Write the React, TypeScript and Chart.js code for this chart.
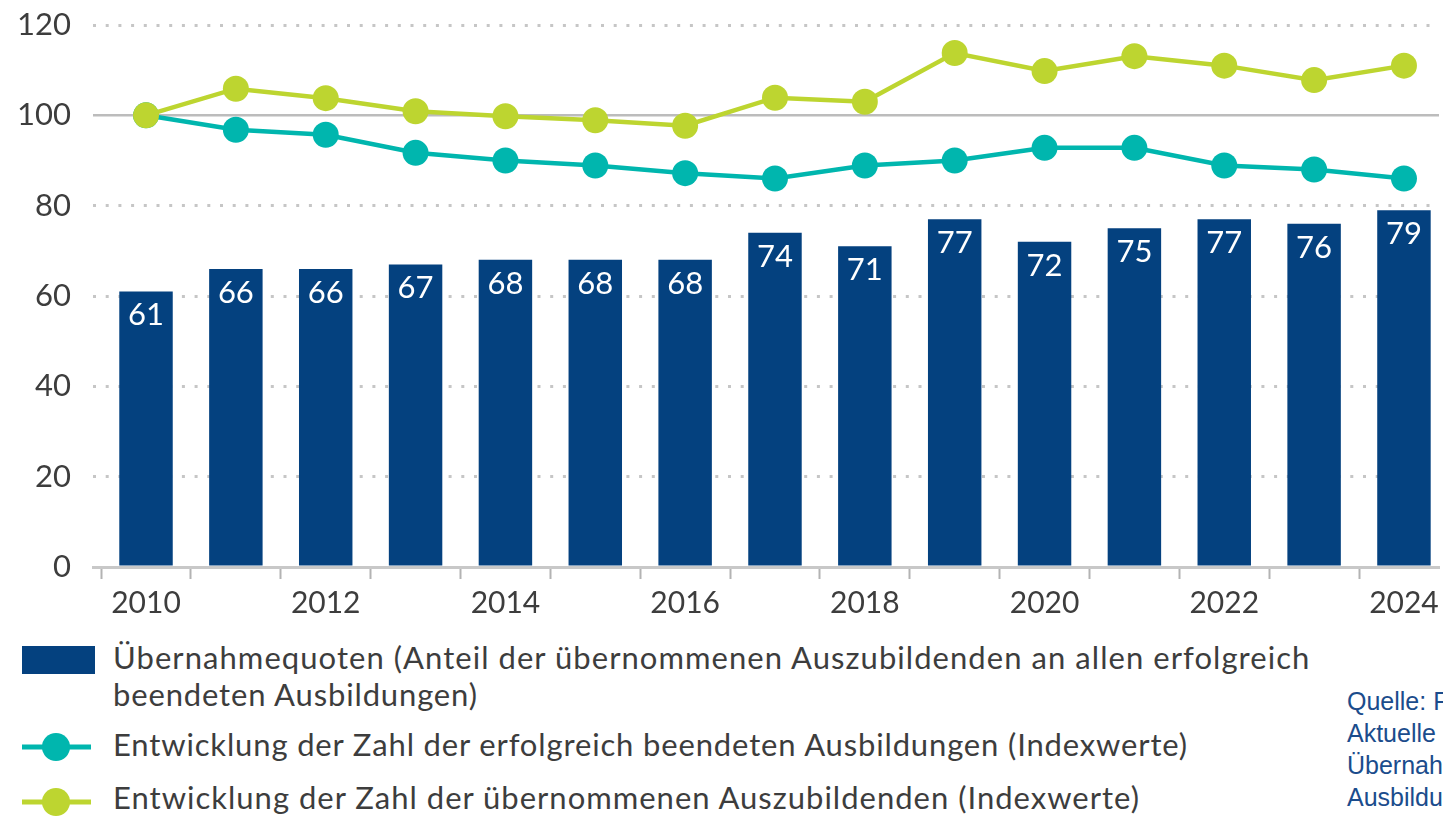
import React, { useEffect, useRef } from 'react';
import { Chart, registerables } from 'chart.js';

Chart.register(...registerables);

const years = [2010, 2011, 2012, 2013, 2014, 2015, 2016, 2017, 2018, 2019, 2020, 2021, 2022, 2023, 2024];
const quoten = [61, 66, 66, 67, 68, 68, 68, 74, 71, 77, 72, 75, 77, 76, 79];
const beendet = [100, 96.8, 95.7, 91.7, 90.0, 88.9, 87.2, 86.0, 88.9, 90.0, 92.8, 92.8, 88.9, 88.0, 86.0];
const uebernommen = [100, 105.9, 103.8, 100.9, 99.8, 98.9, 97.7, 103.9, 103.0, 113.8, 109.8, 113.1, 111.0, 107.8, 111.0];
const yMin = 0;
const yMax = 120;
const yStep = 20;

const barLabel = 'Übernahmequoten (Anteil der übernommenen Auszubildenden an allen erfolgreich';
const barLabel2 = 'beendeten Ausbildungen)';
const tealLabel = 'Entwicklung der Zahl der erfolgreich beendeten Ausbildungen (Indexwerte)';
const greenLabel = 'Entwicklung der Zahl der übernommenen Auszubildenden (Indexwerte)';
const sourceLines = [
  'Quelle: Forschungsdatenzentrum der BA, IAB-Betriebspanel',
  'Aktuelle Ergebnisse zur',
  'Übernahme von',
  'Ausbildungsabsolventen',
];

const BAR = '#04417f';
const TEAL = '#00b6ae';
const GREEN = '#bdd530';
const TEXT = '#3d3d3d';
const FONT = 'Lato, "Noto Sans", sans-serif';

const barLabelPlugin = {
  id: 'barLabels',
  afterDatasetsDraw(chart: any) {
    const meta = chart.getDatasetMeta(2);
    const ctx = chart.ctx;
    ctx.save();
    ctx.fillStyle = '#ffffff';
    ctx.font = `31px ${FONT}`;
    ctx.textAlign = 'center';
    ctx.textBaseline = 'alphabetic';
    meta.data.forEach((el: any, i: number) => {
      ctx.fillText(String(quoten[i]), el.x, el.y + 34);
    });
    ctx.restore();
  },
};

export default function App() {
  const ref = useRef<HTMLCanvasElement | null>(null);

  useEffect(() => {
    if (!ref.current) return;
    const chart = new Chart(ref.current, {
      type: 'bar',
      data: {
        datasets: [
          {
            type: 'line',
            label: greenLabel,
            data: years.map((y, i) => ({ x: y, y: uebernommen[i] })),
            borderColor: GREEN,
            backgroundColor: GREEN,
            borderWidth: 4.5,
            pointRadius: 13,
            pointHoverRadius: 13,
            pointBorderWidth: 0,
            pointBackgroundColor: GREEN,
            tension: 0,
            order: 0,
          } as any,
          {
            type: 'line',
            label: tealLabel,
            data: years.map((y, i) => ({ x: y, y: beendet[i] })),
            borderColor: TEAL,
            backgroundColor: TEAL,
            borderWidth: 4.5,
            pointRadius: 13,
            pointHoverRadius: 13,
            pointBorderWidth: 0,
            pointBackgroundColor: TEAL,
            tension: 0,
            order: 1,
          } as any,
          {
            type: 'bar',
            label: barLabel,
            data: years.map((y, i) => ({ x: y, y: quoten[i] })),
            backgroundColor: BAR,
            borderWidth: 0,
            categoryPercentage: 1,
            barPercentage: 0.595,
            order: 2,
          } as any,
        ],
      },
      options: {
        animation: false,
        responsive: false,
        maintainAspectRatio: false,
        devicePixelRatio: 1,
        layout: { autoPadding: false, padding: { top: 25, right: 4, left: 0, bottom: 0 } },
        plugins: {
          legend: { display: false },
          tooltip: { enabled: false },
          title: { display: false },
        },
        scales: {
          x: {
            type: 'linear',
            min: 2009.41,
            max: 2024.39,
            offset: false,
            afterFit: (s: any) => {
              s.height = 60;
              s.paddingLeft = 0;
              s.paddingRight = 0;
            },
            ticks: {
              stepSize: 1,
              includeBounds: false,
              autoSkip: false,
              maxRotation: 0,
              padding: 6,
              color: TEXT,
              font: { family: FONT, size: 30 },
              callback: (v: any) => (Number(v) % 2 === 0 ? String(v) : ''),
            },
            grid: {
              display: true,
              drawOnChartArea: false,
              drawTicks: true,
              tickLength: 12,
              tickColor: '#b3b3b3',
              tickWidth: 2,
            },
            border: { display: true, color: '#c8c8c8', width: 3 },
          } as any,
          y: {
            type: 'linear',
            min: yMin,
            max: yMax,
            afterFit: (s: any) => {
              s.width = 93;
              s.paddingTop = 0;
              s.paddingBottom = 0;
            },
            ticks: {
              stepSize: yStep,
              padding: 22,
              color: TEXT,
              font: { family: FONT, size: 31 },
            },
            grid: {
              drawTicks: false,
              lineWidth: (c: any) => (c.tick && c.tick.value === 100 ? 2.5 : 3),
              color: (c: any) =>
                c.tick && c.tick.value === 0 ? 'rgba(0,0,0,0)' : c.tick && c.tick.value === 100 ? '#bcbcbc' : '#c6c6c6',
            },
            border: {
              display: false,
              dash: (c: any) => (c.tick && c.tick.value === 100 ? [] : [3, 9.7]),
            },
          } as any,
        },
      },
      plugins: [barLabelPlugin],
    });
    return () => chart.destroy();
  }, []);

  const legendText: React.CSSProperties = {
    position: 'absolute',
    left: 113,
    fontFamily: FONT,
    fontSize: 31,
    letterSpacing: '0.85px',
    lineHeight: '37px',
    color: TEXT,
    whiteSpace: 'nowrap',
    margin: 0,
  };

  const lineIcon = (color: string, cy: number) => (
    <svg style={{ position: 'absolute', left: 20, top: cy - 15 }} width={74} height={30}>
      <line x1={2} y1={15} x2={71} y2={15} stroke={color} strokeWidth={5} />
      <circle cx={36} cy={15} r={14} fill={color} />
    </svg>
  );

  return (
    <div
      style={{
        position: 'fixed',
        left: 0,
        top: 0,
        width: 1443,
        height: 817,
        overflow: 'hidden',
        background: '#ffffff',
      }}
    >
      <canvas
        ref={ref}
        width={1443}
        height={627}
        style={{ position: 'absolute', left: 0, top: 0, width: 1443, height: 627 }}
      />
      <div style={{ position: 'absolute', left: 22, top: 646, width: 73, height: 28, background: BAR }} />
      <div style={{ ...legendText, top: 639 }}>
        <span style={{ letterSpacing: '1.05px' }}>{barLabel}</span>
        <br />
        {barLabel2}
      </div>
      {lineIcon(TEAL, 747)}
      <div style={{ ...legendText, top: 726 }}>{tealLabel}</div>
      {lineIcon(GREEN, 802)}
      <div style={{ ...legendText, top: 779, letterSpacing: '1px' }}>{greenLabel}</div>
      <div
        style={{
          position: 'absolute',
          left: 1347,
          top: 685,
          fontFamily: '"Liberation Sans", Arial, sans-serif',
          fontSize: 25,
          lineHeight: '32px',
          color: '#1b4c8c',
          whiteSpace: 'nowrap',
        }}
      >
        {sourceLines.map((l, i) => (
          <div key={i}>{l}</div>
        ))}
      </div>
    </div>
  );
}
